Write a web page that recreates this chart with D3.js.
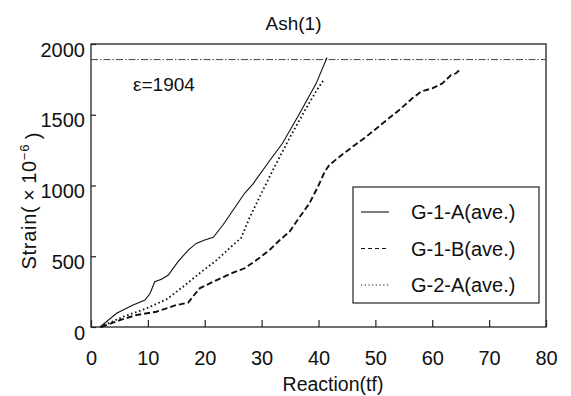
<!DOCTYPE html>
<html>
<head>
<meta charset="utf-8">
<script src="https://cdn.jsdelivr.net/npm/d3@7"></script>
<style>
  body { margin: 0; background: #fff; }
  text { font-family: "Liberation Sans", Arial, sans-serif; fill: #111; }
</style>
</head>
<body>
<svg id="chart" width="571" height="396"></svg>
<script>
// values: [reaction (tf), strain (x10^-6)]
const g1a = [[1.6, 0], [4.5, 97], [7.4, 155], [9.5, 191], [10.4, 238], [11.2, 320], [12.4, 337],
  [13.6, 367], [15.3, 462], [17.1, 544], [18.5, 591], [20, 615], [21.5, 634], [23.2, 721],
  [25, 827], [27, 945], [28.5, 1012], [31.4, 1175], [33.7, 1300], [36.7, 1510], [39.6, 1722], [41.5, 1905]];
const g1b = [[1.8, 0], [5.1, 49], [8, 85], [11.5, 108], [15, 155], [17.1, 172], [17.9, 214],
  [19.1, 273], [22.1, 332], [25, 384], [27, 415], [29.1, 473], [31.4, 544], [33.2, 615],
  [34.9, 673], [36.1, 744], [38.4, 874], [39.9, 992], [41.1, 1098], [41.9, 1145], [43.7, 1204],
  [46, 1274], [48.4, 1345], [51.3, 1440], [54.2, 1534], [56.5, 1616], [58, 1663], [60, 1687],
  [61.8, 1722], [63.3, 1781], [64.2, 1793], [65, 1825]];
const g2a = [[1.6, 0], [5.7, 73], [9.8, 132], [13.3, 196], [16.2, 285], [19.1, 380], [22.1, 473],
  [25, 580], [26.4, 630], [27.9, 775], [29.6, 915], [32, 1110], [34.9, 1335], [37.8, 1545],
  [39.8, 1680], [40.8, 1740]];
const limitStrain = 1904;
const xTicks = [0, 10, 20, 30, 40, 50, 60, 70, 80];
const yTicks = [0, 500, 1000, 1500, 2000];
const seriesNames = ["G-1-A(ave.)", "G-1-B(ave.)", "G-2-A(ave.)"];

const svg = d3.select("#chart");
const plotL = 91, plotR = 546, plotT = 44, plotB = 327;

const x = d3.scaleLinear().domain([0, 80]).range([plotL, plotR]);
const y = d3.scaleLinear().domain([0, 2000]).range([plotB, plotT]);

// frame
svg.append("rect")
  .attr("x", plotL).attr("y", plotT)
  .attr("width", plotR - plotL).attr("height", plotB - plotT)
  .attr("fill", "none").attr("stroke", "#222").attr("stroke-width", 1.3);

// ticks point inward
const xAxis = svg.append("g").attr("transform", `translate(0,${plotB})`)
  .call(d3.axisBottom(x).tickValues(xTicks).tickFormat(d3.format("d"))
    .tickSizeInner(-7).tickSizeOuter(0).tickPadding(24));
const yAxis = svg.append("g").attr("transform", `translate(${plotL},0)`)
  .call(d3.axisLeft(y).tickValues(yTicks).tickFormat(d3.format("d"))
    .tickSizeInner(-5).tickSizeOuter(0).tickPadding(6));
[xAxis, yAxis].forEach(g => {
  g.select(".domain").remove();
  g.selectAll("line").attr("stroke", "#222").attr("stroke-width", 1.2);
  g.selectAll("text").style("font-size", "20px").attr("fill", "#111")
    .style("font-family", '"Liberation Sans", Arial, sans-serif');
});
yAxis.selectAll("text").attr("dy", "0.6em");

// limit line
svg.append("line")
  .attr("x1", plotL).attr("x2", plotR)
  .attr("y1", y(limitStrain) + 2).attr("y2", y(limitStrain) + 2)
  .attr("stroke", "#444").attr("stroke-width", 1)
  .attr("stroke-dasharray", "7,2,1.5,2");
svg.append("text").attr("x", 133).attr("y", 91)
  .style("font-size", "19px").text("ε=1904");

const line = d3.line().x(d => x(d[0])).y(d => y(d[1]));
const styles = [
  { data: g1a, width: 1.1, dash: null, legendDash: null },
  { data: g1b, width: 1.9, dash: "6,3", legendDash: "4,3" },
  { data: g2a, width: 1.8, dash: "1.6,2.6", legendDash: "1.2,2.5" }
];
styles.forEach(s => {
  svg.append("path").datum(s.data).attr("d", line)
    .attr("fill", "none").attr("stroke", "#111")
    .attr("stroke-width", s.width)
    .attr("stroke-dasharray", s.dash);
});

// legend
const lg = svg.append("g").attr("transform", "translate(353,187)");
lg.append("rect").attr("width", 186).attr("height", 116)
  .attr("fill", "#fff").attr("stroke", "#222").attr("stroke-width", 1.2);
seriesNames.forEach((name, i) => {
  const cy = 25 + i * 36.5;
  lg.append("line").attr("x1", 8).attr("x2", 36).attr("y1", cy).attr("y2", cy)
    .attr("stroke", "#111").attr("stroke-width", 1.1)
    .attr("stroke-dasharray", styles[i].legendDash);
  lg.append("text").attr("x", 58).attr("y", cy).attr("dy", "0.35em")
    .style("font-size", "20px").text(name);
});

// titles
svg.append("text").attr("x", 293.5).attr("y", 23).attr("dy", "0.35em")
  .attr("text-anchor", "middle").style("font-size", "19px").text("Ash(1)");
svg.append("text").attr("x", 333).attr("y", 384).attr("dy", "0.35em")
  .attr("text-anchor", "middle").style("font-size", "19.5px").text("Reaction(tf)");

const yl = svg.append("text")
  .attr("transform", "translate(29,201) rotate(-90)")
  .attr("text-anchor", "middle")
  .attr("textLength", 137).attr("lengthAdjust", "spacing")
  .style("font-size", "20px");
yl.append("tspan").attr("dy", "0.35em").text("Strain(\u2009×\u200910");
yl.append("tspan").attr("dy", "-0.55em").style("font-size", "13px").text("−6");
yl.append("tspan").attr("dy", "0.55em").text("\u2009)");
</script>
</body>
</html>
